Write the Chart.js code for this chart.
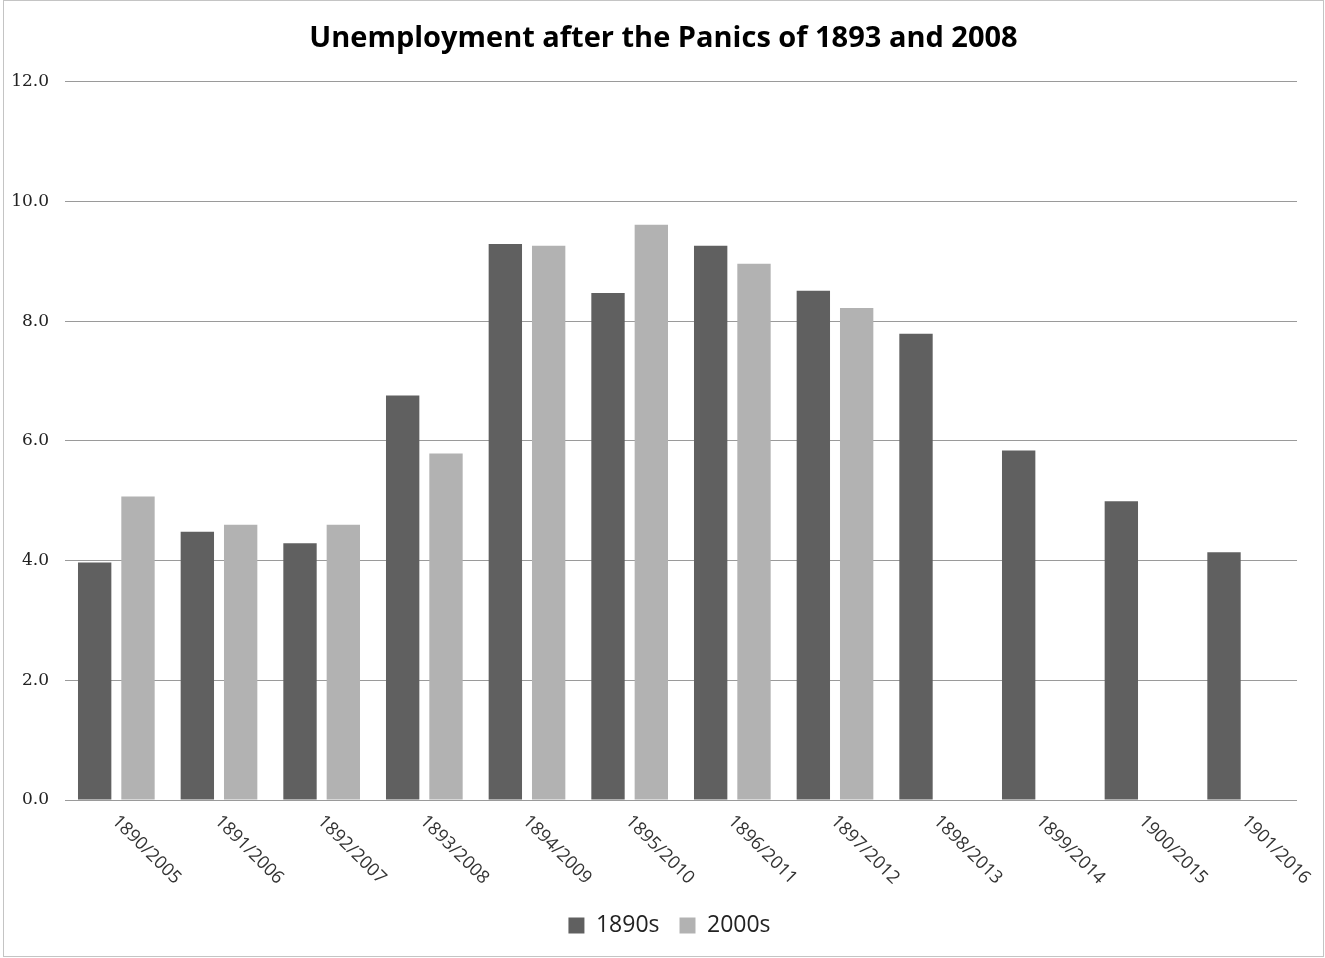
<!DOCTYPE html>
<html>
<head>
<meta charset="utf-8">
<script src="https://cdn.jsdelivr.net/npm/chart.js@4.4.0/dist/chart.umd.min.js"></script>
<style>
    html, body { margin: 0; padding: 0; background: #fff; }
    #wrap { width: 1325px; height: 958px; position: relative; }
</style>
</head>
<body>
<div id="wrap"><canvas id="chart" width="1325" height="958"></canvas></div>
<script>
const years = ['1890/2005', '1891/2006', '1892/2007', '1893/2008', '1894/2009', '1895/2010',
    '1896/2011', '1897/2012', '1898/2013', '1899/2014', '1900/2015', '1901/2016'];
const rate1890s = [3.97, 4.48, 4.29, 6.76, 9.29, 8.47, 9.26, 8.51, 7.79, 5.84, 4.99, 4.14];
const rate2000s = [5.07, 4.60, 4.60, 5.79, 9.26, 9.61, 8.96, 8.22, null, null, null, null];
const yTicks = [0, 2, 4, 6, 8, 10, 12];

// slanted year labels, drawn under each category
const slantLabels = {
    id: 'slantLabels',
    afterDraw(chart) {
        const ctx = chart.ctx;
        const xs = chart.scales.x;
        ctx.save();
        ctx.font = '18px "Open Sans"';
        ctx.fillStyle = '#333';
        ctx.textAlign = 'left';
        ctx.textBaseline = 'top';
        years.forEach((lab, i) => {
            const x = xs.getPixelForValue(i);
            ctx.save();
            ctx.translate(x + 5, xs.top + 12);
            ctx.rotate(Math.PI / 4);
            ctx.fillText(lab, 0, 0);
            ctx.restore();
        });
        ctx.restore();
    }
};

// title and legend sit a little right of the plot centre in the original
const boxShift = {
    id: 'boxShift',
    afterLayout(chart) {
        chart.titleBlock.left += 15;
        chart.titleBlock.right += 15;
        chart.legend.left += 21;
        chart.legend.right += 21;
    }
};

// thin frame round the picture
const frame = {
    id: 'frame',
    beforeDraw(chart) {
        const ctx = chart.ctx;
        ctx.save();
        ctx.fillStyle = '#fff';
        ctx.fillRect(0, 0, chart.width, chart.height);
        ctx.strokeStyle = '#c4c4c4';
        ctx.lineWidth = 1;
        ctx.strokeRect(3.5, 0.5, chart.width - 5, chart.height - 2);
        ctx.restore();
    }
};

const ctx = document.getElementById('chart').getContext('2d');
new Chart(ctx, {
    type: 'bar',
    data: {
        labels: years,
        datasets: [{
            label: '1890s',
            data: rate1890s,
            backgroundColor: '#606060'
        }, {
            label: '2000s',
            data: rate2000s,
            backgroundColor: '#b2b2b2'
        }]
    },
    options: {
        responsive: false,
        animation: false,
        devicePixelRatio: 1,
        layout: { padding: { left: 0, right: 28, top: 0, bottom: 11 } },
        datasets: {
            bar: { barPercentage: 0.77, categoryPercentage: 0.844 }
        },
        plugins: {
            title: {
                display: true,
                text: 'Unemployment after the Panics of 1893 and 2008',
                color: '#000',
                font: { family: '"Open Sans"', size: 29, weight: 'bold' },
                padding: { top: 21, bottom: 26 }
            },
            legend: {
                position: 'bottom',
                labels: {
                    color: '#222',
                    font: { family: '"Open Sans"', size: 23 },
                    boxWidth: 16,
                    boxHeight: 16,
                    padding: 20
                }
            },
            tooltip: { enabled: false }
        },
        scales: {
            x: {
                ticks: { display: false },
                grid: { display: false },
                border: { display: false },
                afterFit(scale) { scale.height = 94; }
            },
            y: {
                min: 0,
                max: 12,
                afterBuildTicks(scale) { scale.ticks = yTicks.map(v => ({ value: v })); },
                ticks: {
                    color: '#222',
                    padding: 16,
                    font: { family: '"DejaVu Serif"', size: 17 },
                    callback: v => v.toFixed(1)
                },
                grid: { color: '#9a9a9a', lineWidth: 1, drawTicks: false },
                border: { display: false },
                afterFit(scale) { scale.width = 65; }
            }
        }
    },
    plugins: [frame, boxShift, slantLabels]
});
</script>
</body>
</html>
